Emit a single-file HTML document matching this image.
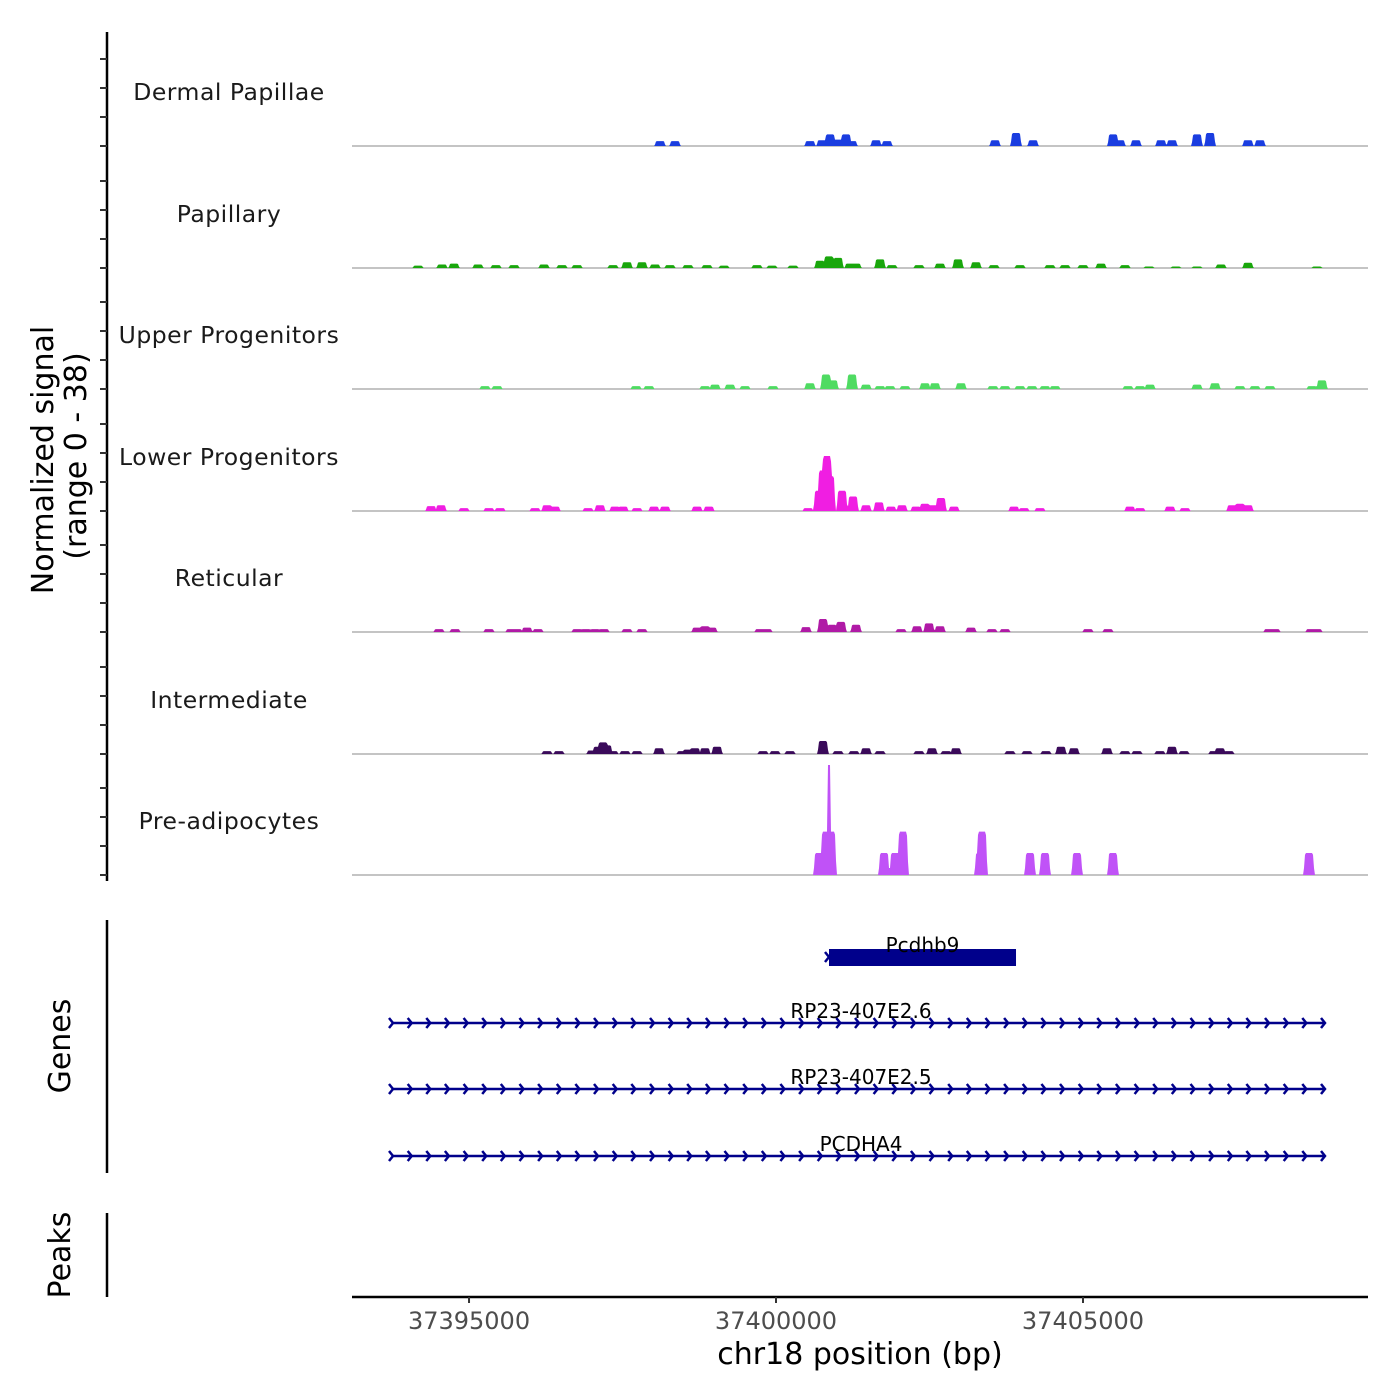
<!DOCTYPE html>
<html><head><meta charset="utf-8">
<style>
html,body{margin:0;padding:0;background:#fff;}
svg{display:block;font-family:"DejaVu Sans","Liberation Sans",sans-serif;}
</style></head>
<body>
<svg id="chart" width="1400" height="1400" viewBox="0 0 1400 1400" xmlns="http://www.w3.org/2000/svg">
<g id="tracks"></g>
<g id="genes"></g>
<g id="axes"></g>
</svg>
<script>
// ---- data ----
const trackNames = ["Dermal Papillae","Papillary","Upper Progenitors","Lower Progenitors","Reticular","Intermediate","Pre-adipocytes"];
const trackColors = ["#1a3de0","#19a60c","#4fdb62","#f01ee2","#b01aa6","#3a0a5a","#c052f7"];
const xTicks = [37395000,37400000,37405000];
const xTickLabels = ["37395000","37400000","37405000"];
const yRangeMax = 38;

const dpPos = [37398111,37398355,37400554,37400749,37400880,37401010,37401140,37401238,37401629,37401808,37403567,37403909,37404186,37405489,37405603,37405863,37406270,37406450,37406857,37407069,37407687,37407883];
const dpVal = [1.7,1.7,1.7,2,4,2.2,4,1.7,2,1.7,2,4.5,2,4,2,2,2,2,4,4.5,2,2];

const papPos = [37394169,37394560,37394755,37395146,37395439,37395733,37396221,37396514,37396759,37397345,37397573,37397817,37398029,37398273,37398566,37398876,37399153,37399690,37399935,37400277,37400716,37400863,37401010,37401205,37401303,37401694,37401889,37402329,37402671,37402964,37403257,37403550,37403974,37404462,37404707,37405000,37405293,37405684,37406075,37406514,37406857,37407247,37407687,37408811];
const papVal = [0.8,1.2,1.5,1.2,1,1,1.2,1,1,1,2,2,1.2,1,1,1,0.8,1,0.8,0.8,2.5,4,3.5,1.5,1.5,3,1,1,1.5,3,2,1,1,1,1,1,1.5,1,0.5,0.5,0.5,1.2,1.8,0.5];

const upPos = [37395260,37395456,37397720,37397931,37398843,37399006,37399251,37399495,37399951,37400553,37400814,37400928,37401238,37401466,37401694,37401856,37402101,37402426,37402589,37403013,37403534,37403729,37403974,37404169,37404381,37404544,37405733,37405928,37406091,37406857,37407150,37407557,37407801,37408045,37408730,37408892];
const upVal = [1,1,1,1,1,1.5,1.5,1,1,2,5,3,5,1.5,1,1,1,2,2,2,1,1,1,1,1,1,1,1,1.5,1.5,2,1,1,1,1,3];

const lpPos = [37394381,37394544,37394918,37395325,37395505,37396075,37396270,37396400,37396938,37397133,37397377,37397508,37397736,37398013,37398192,37398713,37398908,37400521,37400700,37400765,37400830,37400880,37401075,37401254,37401466,37401677,37401873,37402052,37402280,37402426,37402557,37402687,37402899,37403876,37404039,37404299,37405765,37405928,37406417,37406661,37407427,37407557,37407687];
const lpVal = [1.7,2,1,1,1,1,2,1.5,1,2,1.5,1.5,1,1.5,1.5,1.5,1.5,1,7,14,19,12,7,5,2,3,1.5,2,1.5,2.5,2,4.5,1.5,1.5,1,1,1.5,1,1.5,1,2,2.5,2];

const retPos = [37394511,37394772,37395325,37395684,37395781,37395944,37396123,37396759,37396905,37397052,37397198,37397573,37397817,37398713,37398843,37398957,37399739,37399853,37400488,37400765,37400912,37401058,37401303,37402036,37402296,37402492,37402671,37403176,37403517,37403729,37405081,37405407,37408029,37408127,37408713,37408811];
const retVal = [1,1,1,1,1,1.5,1,1,1,1,1,1,1,1.5,2,1.5,1,1,1.7,4.5,2.5,3.5,2.5,1,2,3,2,1.5,1,1,1,1,1,1,1,1];

const intPos = [37396270,37396465,37397003,37397101,37397182,37397247,37397345,37397540,37397736,37398094,37398469,37398566,37398680,37398843,37399039,37399788,37399983,37400228,37400765,37401010,37401270,37401466,37401694,37402329,37402540,37402769,37402931,37403811,37404088,37404397,37404641,37404853,37405391,37405684,37405879,37406254,37406449,37406645,37407133,37407231,37407377];
const intVal = [1,1,1.2,2.5,4,3,1,1,1,2,1,1.5,2,2,2.5,1,1,1,4.5,1,1,2,1,1,2,1,2,1,1,1,2.5,2,2,1,1,1,2.5,1,1,2,1];

const prePos = [37400700,37400733,37400814,37400863,37400896,37401759,37401938,37402068,37403322,37403355,37404137,37404381,37404902,37405488,37408681];
const preVal = [7.6,7.6,15,38,15,7.6,7.6,15,7.6,15,7.6,7.6,7.6,7.6,7.6];

const trackPos = [dpPos,papPos,upPos,lpPos,retPos,intPos,prePos];
const trackVal = [dpVal,papVal,upVal,lpVal,retVal,intVal,preVal];

const geneNames = ["Pcdhb9","RP23-407E2.6","RP23-407E2.5","PCDHA4"];
const geneStart = [37400863,37393762,37393762,37393762];
const geneEnd = [37403909,37408941,37408941,37408941];

// ---- scales ----
const X0 = 352, X1 = 1368;
const BP0 = 37393094, BP1 = 37409642;
function xs(bp){ return X0 + (bp-BP0)/(BP1-BP0)*(X1-X0); }
const baselines = [146,268,389,511,632,754,875];
const pxPerUnit = 110/38;
function ys(v, base){ return base - v*pxPerUnit; }

const NS = "http://www.w3.org/2000/svg";
function mk(tag, attrs, parent){
  const e = document.createElementNS(NS, tag);
  for (const k in attrs) e.setAttribute(k, attrs[k]);
  parent.appendChild(e);
  return e;
}
const tracksG = document.getElementById('tracks');
const genesG = document.getElementById('genes');
const axesG = document.getElementById('axes');

const peakW = 180; // bp
trackNames.forEach((name, t) => {
  const base = baselines[t];
  const g = mk('g', {}, tracksG);
  
  
  const bl = mk('line', {x1:X0, x2:X1, y1:base, y2:base, stroke:'#8a8a8a', 'stroke-width':1}, g);
  
  
  const lb = mk('text', {x:229, y:base-46, 'text-anchor':'middle', 'font-size':23.5, fill:'#1a1a1a', 'letter-spacing':'0.5'}, g);
  lb.textContent = name;
  
  
  const pos = trackPos[t], val = trackVal[t];
  let d = '';
  for (let px = X0; px <= X1; px += 1) {
    const bp = BP0 + (px - X0)/(X1-X0)*(BP1-BP0);
    let h = 0;
    for (let i = 0; i < pos.length; i++) {
      const dist = Math.abs(bp - pos[i]);
      const half = (val[i] > 20 ? 30 : peakW/2);
      const flat = half*0.7;
      let f = 0;
      if (dist <= flat) f = 1; else if (dist < half) f = 1 - (dist-flat)/(half-flat);
      h = Math.max(h, f*val[i]);
    }
    d += (px===X0 ? 'M' : 'L') + px + ' ' + ys(h, base).toFixed(2) + ' ';
  }
  d += 'L' + X1 + ' ' + base + ' L' + X0 + ' ' + base + ' Z';
  const ar = mk('path', {d:d, fill:trackColors[t]}, g);
  
  
});

// genes
const geneY = [957,1023,1089,1156];
const geneColor = '#00008b';
geneNames.forEach((name, i) => {
  const g = mk('g', {}, genesG);
  
  
  const xa = xs(geneStart[i]), xb = xs(geneEnd[i]), y = geneY[i];
  if (i === 0) {
    const r = mk('rect', {x:xa, y:y-8, width:xb-xa, height:17, fill:geneColor}, g);
    
    
    const c = mk('path', {d:`M${xa-4} ${y-5} L${xa} ${y} L${xa-4} ${y+5}`, fill:'none', stroke:geneColor, 'stroke-width':2.5}, g);
    
    
  } else {
    const l = mk('line', {x1:xa, x2:xb, y1:y, y2:y, stroke:geneColor, 'stroke-width':2.5}, g);
    
    
    let p = '';
    for (let x = xa; x <= xb + 0.5; x += (xb-xa)/50) {
      p += `M${(x-4).toFixed(1)} ${y-5} L${x.toFixed(1)} ${y} L${(x-4).toFixed(1)} ${y+5} `;
    }
    const c = mk('path', {d:p, fill:'none', stroke:geneColor, 'stroke-width':2.5}, g);
    
    
  }
  const tx = i === 0 ? (xa+xb)/2 : 861;
  const t = mk('text', {x:tx, y:y-5, 'text-anchor':'middle', 'font-size':20, fill:'#000'}, g);
  t.textContent = name;
  
  
});

// left axes
function vline(x, y1, y2, nm){
  const l = mk('line', {x1:x, x2:x, y1:y1, y2:y2, stroke:'#000', 'stroke-width':2.5}, axesG);
  
  
}
vline(107, 32, 881, 'signal-y-axis');
baselines.forEach(b => {
  for (let k = 0; k < 4; k++) {
    const tk = mk('line', {x1:100, x2:107, y1:b-k*29, y2:b-k*29, stroke:'#333', 'stroke-width':2}, axesG);
    
    
  }
});
vline(107, 920, 1173, 'genes-axis');
vline(107, 1213, 1297, 'peaks-axis');
function vtext(x, y, s, nm){
  const t = mk('text', {x:x, y:y, transform:`rotate(-90 ${x} ${y})`, 'text-anchor':'middle', 'font-size':30, fill:'#000'}, axesG);
  t.textContent = s;
  
  
}
vtext(53, 460, 'Normalized signal', 'y-axis-title');
vtext(86, 456, '(range 0 - ' + yRangeMax + ')', 'y-axis-range');
vtext(70, 1046, 'Genes', 'genes-title');
vtext(70, 1255, 'Peaks', 'peaks-title');

// x axis
const xl = mk('line', {x1:X0, x2:X1, y1:1297, y2:1297, stroke:'#000', 'stroke-width':2.5}, axesG);


xTicks.forEach((v, i) => {
  const x = xs(v);
  const tk = mk('line', {x1:x, x2:x, y1:1297, y2:1303, stroke:'#333', 'stroke-width':2}, axesG);
  
  
  const t = mk('text', {x:x, y:1329, 'text-anchor':'middle', 'font-size':24, fill:'#4d4d4d'}, axesG);
  t.textContent = xTickLabels[i];
  
  
});
const xt = mk('text', {x:860, y:1364, 'text-anchor':'middle', 'font-size':30, fill:'#000'}, axesG);
xt.textContent = 'chr18 position (bp)';


</script>
</body></html>
